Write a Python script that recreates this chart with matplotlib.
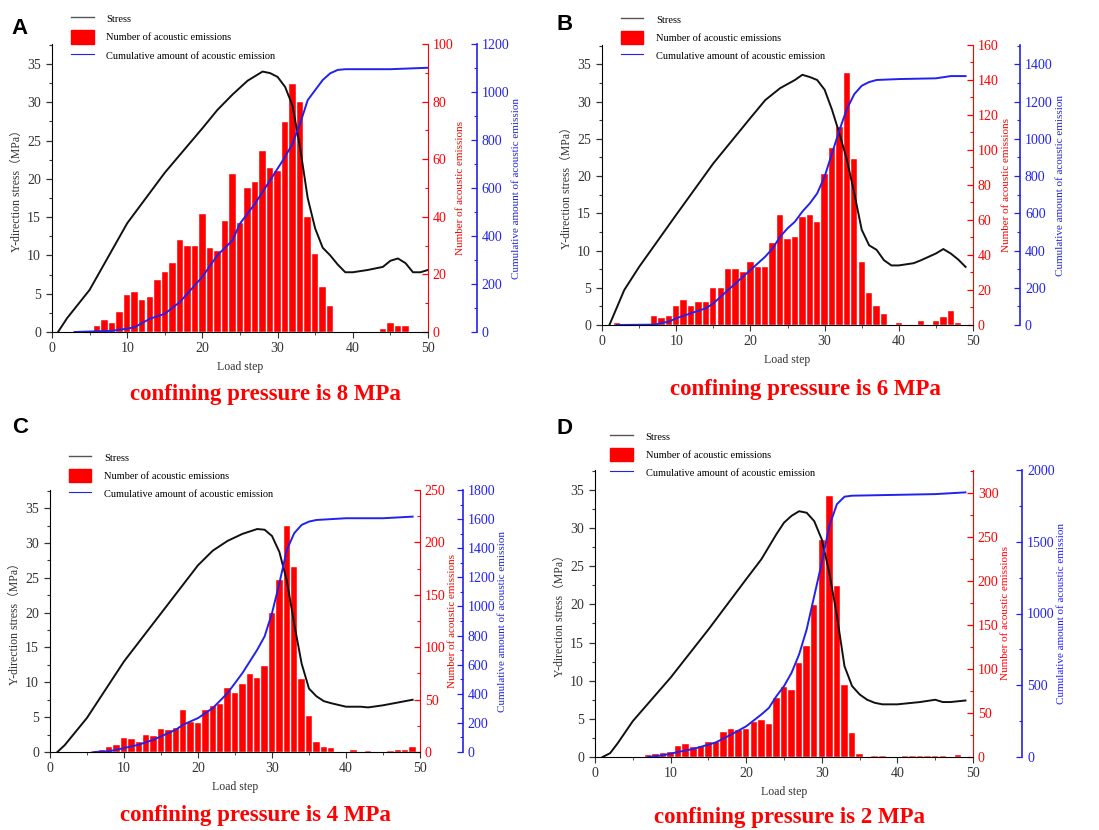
import numpy as np
import matplotlib.pyplot as plt
from matplotlib.ticker import MultipleLocator
from matplotlib.lines import Line2D
from matplotlib.patches import Patch

# =============================================================================
# DATA
# =============================================================================

# --- A: confining pressure 8 MPa ---
A_BAR_STEP = [6, 7, 8, 9, 10, 11, 12, 13, 14, 15, 16, 17, 18, 19, 20, 21, 22, 23, 24, 25,
              26, 27, 28, 29, 30, 31, 32, 33, 34, 35, 36, 37, 44, 45, 46, 47]
A_BAR_COUNT = [2, 4, 3, 7, 13, 14, 11, 12, 18, 21, 24, 32, 30, 30, 41, 29, 28, 38.5, 55, 38,
               50, 52, 63, 57, 56, 73, 86, 80, 40, 27, 15.6, 9, 1, 3, 2, 2]
A_STRESS_X = [0.8, 2, 5, 10, 15, 20, 22, 24, 26, 28, 29, 30, 31, 32, 33, 34, 35, 36, 37, 38,
              39, 40, 42, 44, 45, 46, 47, 48, 49, 50]
A_STRESS_Y = [0, 1.8, 5.5, 14.2, 20.8, 26.6, 29, 31, 32.8, 34, 33.8, 33.3, 32, 29.5, 24, 17.5,
              13.5, 11, 10, 8.8, 7.8, 7.8, 8.1, 8.5, 9.3, 9.6, 9, 7.8, 7.8, 8.1]
A_CUM_X = [3, 8, 10, 11, 13, 15, 17, 20, 22, 24, 25, 27, 29, 31, 32, 33, 34, 35, 36, 37, 38,
           39, 45, 50]
A_CUM_Y = [0, 5, 14, 20, 55, 76, 125, 230, 320, 382, 452, 535, 632, 730, 786, 869, 966, 1008,
           1050, 1078, 1092, 1095, 1095, 1101]

# --- B: confining pressure 6 MPa ---
B_BAR_STEP = [2, 6, 7, 8, 9, 10, 11, 12, 13, 14, 15, 16, 17, 18, 19, 20, 21, 22, 23, 24, 25,
              26, 27, 28, 29, 30, 31, 32, 33, 34, 35, 36, 37, 38, 40, 43, 45, 46, 47, 48]
B_BAR_COUNT = [1, 0.5, 5, 4, 5, 11, 14, 11, 13, 13, 21, 21, 32, 32, 30, 36, 33, 33, 46.7, 63, 49,
               50, 61.5, 63, 59, 86, 101, 113, 144, 95, 36, 18, 11, 6, 1, 2, 2, 4.4, 8, 1]
B_STRESS_X = [1, 3, 5, 10, 15, 20, 22, 24, 26, 27, 28, 29, 30, 31, 32, 33, 34, 35, 36, 37, 38,
              39, 40, 42, 43, 45, 46, 47, 48, 49]
B_STRESS_Y = [0, 4.7, 7.8, 14.8, 21.7, 27.8, 30.2, 31.8, 32.9, 33.6, 33.3, 32.9, 31.6, 28.9,
              25.7, 22.2, 17.7, 12.8, 10.7, 10.1, 8.7, 8, 8, 8.3, 8.7, 9.6, 10.2, 9.6, 8.8, 7.8]
B_CUM_X = [2, 7, 9, 10, 12, 14, 15, 17, 19, 20, 22, 23, 24, 25, 26, 27, 28, 29, 30, 31, 32, 33,
           34, 35, 36, 37, 40, 45, 47, 49]
B_CUM_Y = [0, 2, 18, 36, 63, 90, 116, 188, 260, 295, 367, 412, 474, 519, 555, 609, 653, 707,
           797, 922, 1047, 1160, 1240, 1285, 1305, 1316, 1321, 1325, 1337, 1337]

# --- C: confining pressure 4 MPa ---
C_BAR_STEP = [6, 7, 8, 9, 10, 11, 12, 13, 14, 15, 16, 17, 18, 19, 20, 21, 22, 23, 24, 25, 26,
              27, 28, 29, 30, 31, 32, 33, 34, 35, 36, 37, 38, 41, 43, 46, 47, 48, 49]
C_BAR_COUNT = [0.5, 1.5, 5, 7, 13, 12, 10, 16.5, 15.5, 22, 21, 23, 40, 29, 27.6, 40, 43.5, 46,
               61, 56, 65, 74.6, 70.5, 81.6, 132.5, 164, 216, 177, 69.6, 34, 10, 4.8, 3.8, 2,
               0.6, 0.6, 2, 1.5, 4.4]
C_STRESS_X = [1, 2, 5, 10, 15, 20, 22, 24, 26, 28, 29, 30, 31, 32, 33, 34, 35, 36, 37, 38, 40,
              42, 43, 45, 47, 49]
C_STRESS_Y = [0, 1, 4.9, 13, 19.9, 26.8, 28.9, 30.3, 31.3, 32, 31.9, 31, 28.7, 24.6, 18.4,
              12.7, 9.1, 8, 7.3, 7, 6.5, 6.5, 6.4, 6.7, 7.1, 7.5]
C_CUM_X = [6, 8, 10, 12, 14, 16, 17, 18, 20, 22, 24, 26, 28, 29, 30, 31, 32, 33, 34, 35, 36,
           40, 45, 49]
C_CUM_Y = [0, 5, 27, 50, 85, 130, 153, 188, 233, 302, 405, 542, 702, 794, 954, 1160, 1388,
           1503, 1560, 1583, 1594, 1606, 1606, 1617]

# --- D: confining pressure 2 MPa ---
D_BAR_STEP = [7, 8, 9, 10, 11, 12, 13, 14, 15, 16, 17, 18, 19, 20, 21, 22, 23, 24, 25, 26, 27,
              28, 29, 30, 31, 32, 33, 34, 35, 37, 38, 41, 42, 43, 44, 45, 46, 48]
D_BAR_COUNT = [2.6, 3.4, 4.5, 5.7, 12, 14.8, 11, 12.9, 16.7, 17, 29, 31.8, 31, 31.8, 39.8, 41.7,
               37.9, 67, 79.5, 75.8, 106.8, 126.5, 173, 247, 297, 194, 81.4, 27.3, 3.4, 1.5,
               1.5, 1.5, 1.5, 1.5, 1.5, 1.5, 1.5, 2.6]
D_STRESS_X = [1, 2, 3, 5, 10, 15, 20, 22, 24, 25, 26, 27, 28, 29, 30, 31, 32, 33, 34, 35, 36,
              37, 38, 40, 43, 45, 46, 47, 49]
D_STRESS_Y = [0, 0.5, 1.8, 4.7, 10.4, 16.7, 23.3, 25.9, 29.2, 30.7, 31.6, 32.2, 32, 30.9, 28.5,
              24.1, 18.5, 11.9, 9.3, 8.2, 7.5, 7.1, 6.9, 6.9, 7.2, 7.5, 7.2, 7.2, 7.4]
D_CUM_X = [7, 9, 11, 13, 15, 16, 18, 20, 22, 23, 24, 25, 26, 27, 28, 29, 30, 31, 32, 33, 34,
           45, 49]
D_CUM_Y = [0, 12, 35, 56, 86, 102, 156, 214, 296, 342, 424, 494, 587, 715, 889, 1122, 1355,
           1611, 1762, 1814, 1821, 1832, 1844]

PANEL_LETTERS = ["A", "B", "C", "D"]
PANEL_TITLES = ["confining pressure is 8 MPa", "confining pressure is 6 MPa",
                "confining pressure is 4 MPa", "confining pressure is 2 MPa"]

# =============================================================================
# STYLE
# =============================================================================
SERIF = ["Liberation Serif", "DejaVu Serif", "Noto Sans CJK SC"]
RED = "#ff0000"
BLUE = "#2222ee"
plt.rcParams["font.family"] = SERIF


def style_ticks(ax, axis_side, color):
    """Tick look for each of the three y axes."""
    ax.tick_params(axis="y", which="both", colors=color, labelsize=10,
                   direction="out" if axis_side == "left" else "in")
    ax.tick_params(axis="y", which="major", length=4.5, width=0.9)
    ax.tick_params(axis="y", which="minor", length=2.5, width=0.8)
    for lab in ax.get_yticklabels():
        lab.set_color(color)


def draw_panel(fig, rect, bars, stress, cum, red_top, red_step, blue_top, blue_step,
               blue_pos, legend_anchor, letter, letter_xy, title, title_xy):
    ax = fig.add_axes(rect)
    ax_r = ax.twinx()
    ax_b = ax.twinx()

    # orden de dibujo: barras abajo, luego la tension, luego la acumulada
    ax_r.set_zorder(1)
    ax.set_zorder(2)
    ax_b.set_zorder(3)
    for a in (ax, ax_r, ax_b):
        a.patch.set_visible(False)

    ax_r.bar(bars[0], bars[1], width=0.86, color=RED, edgecolor="white", linewidth=0.3)
    ax.plot(stress[0], stress[1], color="#111111", lw=1.4)
    ax_b.plot(cum[0], cum[1], color=BLUE, lw=1.4)

    # left stress axis
    ax.set_xlim(0, 50)
    ax.set_ylim(0, 37.6)
    ax.yaxis.set_major_locator(MultipleLocator(5))
    ax.yaxis.set_minor_locator(MultipleLocator(2.5))
    ax.xaxis.set_major_locator(MultipleLocator(10))
    ax.xaxis.set_minor_locator(MultipleLocator(5))
    ax.tick_params(axis="x", which="both", direction="out", labelsize=10, colors="#333333")
    ax.tick_params(axis="x", which="major", length=4)
    ax.tick_params(axis="x", which="minor", length=2.5)
    style_ticks(ax, "left", "#333333")
    ax.spines["top"].set_visible(False)
    ax.spines["right"].set_visible(False)
    ax.set_xlabel("Load step", fontsize=8.5, color="#333333", labelpad=4)
    ax.set_ylabel("Y-direction stress（MPa）", fontsize=8.5, color="#333333",
                  family=SERIF, labelpad=3)

    # red count axis
    ax_r.set_ylim(0, red_top)
    ax_r.yaxis.set_major_locator(MultipleLocator(red_step))
    ax_r.yaxis.set_minor_locator(MultipleLocator(red_step / 2))
    ax_r.set_yticks([t for t in np.arange(0, red_top + 1e-6, red_step)])
    style_ticks(ax_r, "right", RED)
    for s in ("top", "left", "bottom"):
        ax_r.spines[s].set_visible(False)
    ax_r.spines["right"].set_color(RED)
    ax_r.set_ylabel("Number of acoustic emissions", fontsize=8, color=RED, labelpad=2)

    # blue cumulative axis
    ax_b.set_ylim(0, blue_top)
    ax_b.spines["right"].set_position(("axes", blue_pos))
    ax_b.yaxis.set_major_locator(MultipleLocator(blue_step))
    ax_b.yaxis.set_minor_locator(MultipleLocator(blue_step / 2))
    style_ticks(ax_b, "right", BLUE)
    for s in ("top", "left", "bottom"):
        ax_b.spines[s].set_visible(False)
    ax_b.spines["right"].set_color(BLUE)
    ax_b.spines["right"].set_linewidth(1.2)
    ax_b.set_ylabel("Cumulative amount of acoustic emission", fontsize=8, color=BLUE, labelpad=2)

    handles = [Line2D([], [], color="#555555", lw=1.0),
               Patch(facecolor=RED, edgecolor=RED),
               Line2D([], [], color=BLUE, lw=0.8)]
    labels = ["Stress", "Number of acoustic emissions", "Cumulative amount of acoustic emission"]
    ax.legend(handles, labels, loc="upper left", bbox_to_anchor=legend_anchor, frameon=False,
              fontsize=7.5, handlelength=2.2, handleheight=1.6, handletextpad=1.2,
              labelspacing=0.45, borderpad=0, borderaxespad=0)

    fig.text(letter_xy[0], letter_xy[1], letter, fontsize=16, fontweight="bold",
             family="Liberation Sans", ha="center", va="center")
    fig.text(title_xy[0], title_xy[1], title, fontsize=16.5, fontweight="bold", color=RED,
             ha="center", va="center")


# =============================================================================
# MAIN
# =============================================================================

def main():
    W, H = 1099, 830
    fig = plt.figure(figsize=(W / 100, H / 100), dpi=100)
    fig.patch.set_facecolor("white")

    def r(left, top, right, bottom):
        return [left / W, 1 - bottom / H, (right - left) / W, (bottom - top) / H]

    draw_panel(fig, r(52, 44, 428, 332), (A_BAR_STEP, A_BAR_COUNT), (A_STRESS_X, A_STRESS_Y),
               (A_CUM_X, A_CUM_Y), 100, 20, 1200, 200, 1.13, (0.05, 1.11),
               PANEL_LETTERS[0], (20 / W, 1 - 28 / H), PANEL_TITLES[0], (265 / W, 1 - 394 / H))
    draw_panel(fig, r(602, 45, 973, 325), (B_BAR_STEP, B_BAR_COUNT), (B_STRESS_X, B_STRESS_Y),
               (B_CUM_X, B_CUM_Y), 160, 20, 1504, 200, 1.127, (0.05, 1.115),
               PANEL_LETTERS[1], (565 / W, 1 - 25 / H), PANEL_TITLES[1], (805 / W, 1 - 389 / H))
    draw_panel(fig, r(50, 490, 420, 752), (C_BAR_STEP, C_BAR_COUNT), (C_STRESS_X, C_STRESS_Y),
               (C_CUM_X, C_CUM_Y), 250, 50, 1800, 200, 1.116, (0.05, 1.15),
               PANEL_LETTERS[2], (20 / W, 1 - 427 / H), PANEL_TITLES[2], (255 / W, 1 - 815 / H))
    draw_panel(fig, r(595, 470, 973, 757), (D_BAR_STEP, D_BAR_COUNT), (D_STRESS_X, D_STRESS_Y),
               (D_CUM_X, D_CUM_Y), 326.5, 50, 2000, 500, 1.13, (0.04, 1.14),
               PANEL_LETTERS[3], (565 / W, 1 - 428 / H), PANEL_TITLES[3], (790 / W, 1 - 817 / H))

    fig.savefig("out.png", dpi=100, facecolor="white")


if __name__ == "__main__":
    main()
